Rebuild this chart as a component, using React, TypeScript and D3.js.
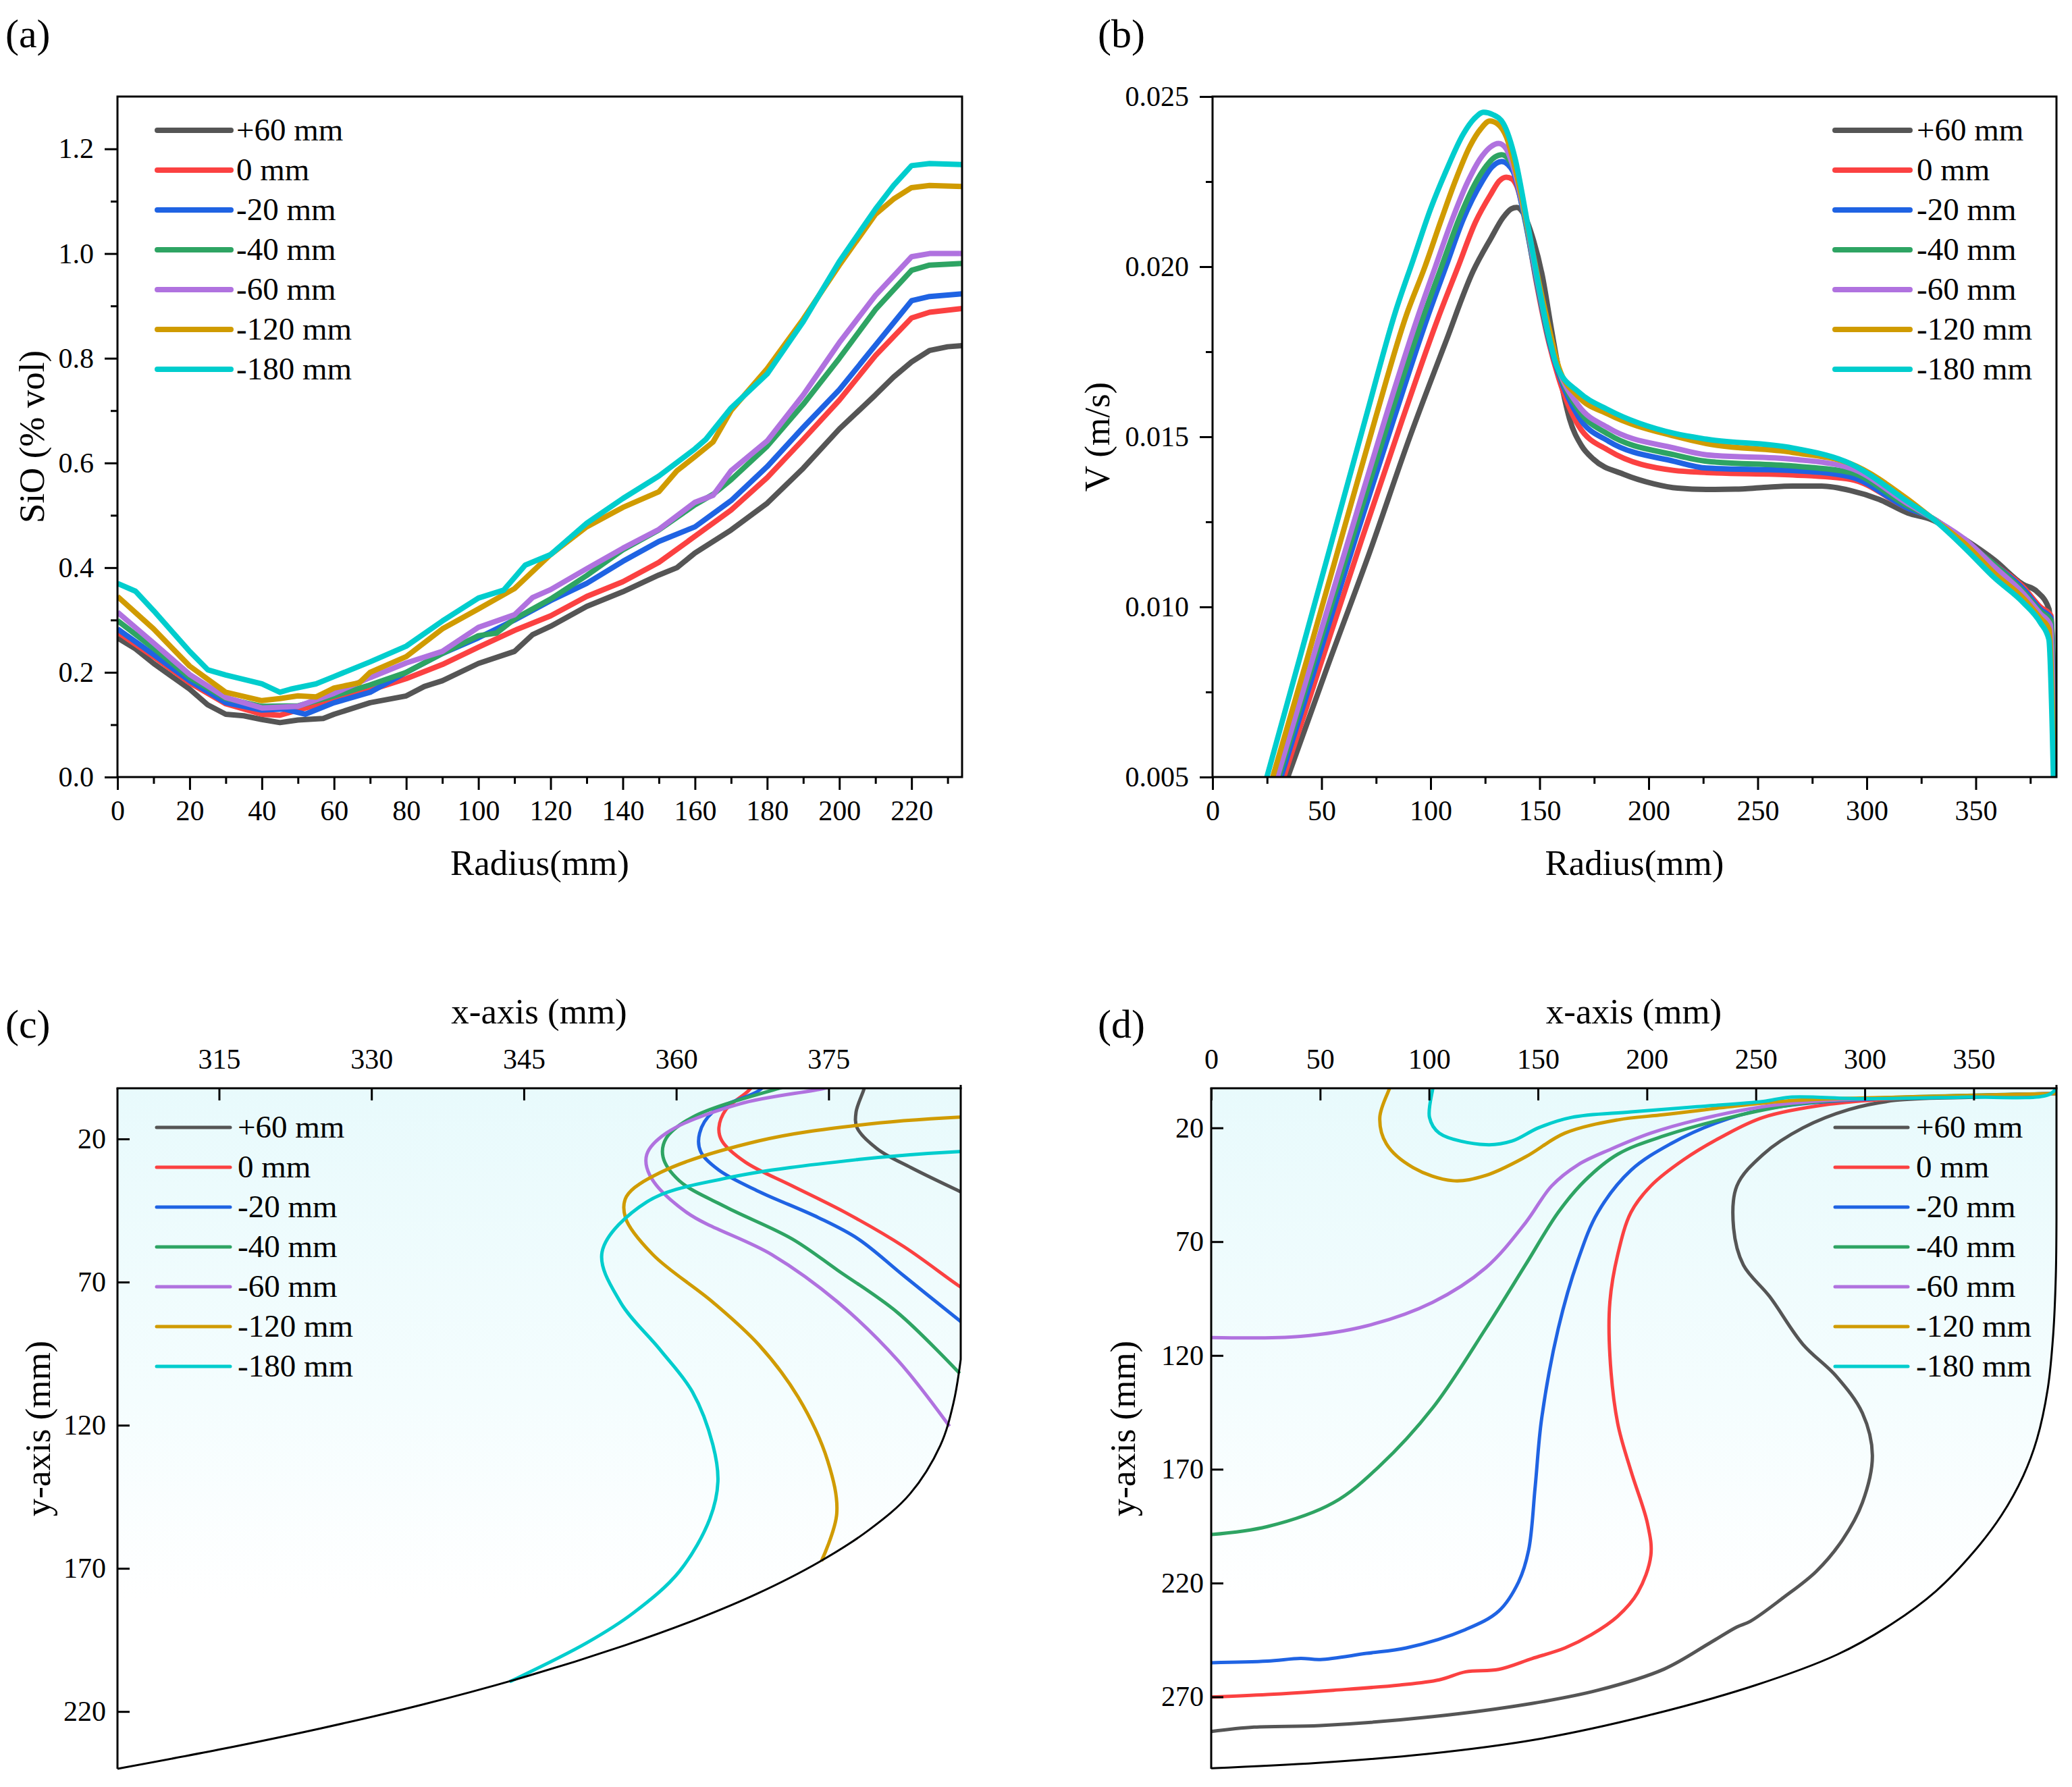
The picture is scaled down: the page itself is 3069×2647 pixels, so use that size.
import { useEffect, useRef } from "react"
import * as d3 from "d3"

type Pt = [number, number]

const FONT = "'Liberation Serif', 'Times New Roman', serif"

const seriesLabels = ["+60 mm", "0 mm", "-20 mm", "-40 mm", "-60 mm", "-120 mm", "-180 mm"]
const seriesColors = ["#555555", "#fb4141", "#1f63e3", "#2ea463", "#b072df", "#d09b00", "#00cdcd"]

// (a) SiO (% vol) vs radius
const sioP60: Pt[] = [[0,0.266],[5,0.245],[10,0.217],[20,0.168],[25,0.138],[30,0.12],[35,0.117],[40,0.11],[45,0.104],[50,0.109],[57,0.112],[60,0.12],[70,0.142],[80,0.155],[85,0.173],[90,0.184],[100,0.217],[110,0.24],[115,0.272],[120,0.288],[130,0.326],[140,0.354],[150,0.386],[155,0.4],[160,0.428],[170,0.472],[180,0.523],[190,0.59],[200,0.665],[210,0.73],[215,0.764],[220,0.793],[225,0.815],[230,0.822],[234,0.824]]
const sio0: Pt[] = [[0,0.277],[10,0.23],[20,0.18],[30,0.14],[40,0.12],[45,0.118],[50,0.128],[60,0.146],[70,0.166],[80,0.188],[90,0.215],[100,0.248],[110,0.28],[120,0.308],[130,0.345],[140,0.373],[150,0.41],[160,0.46],[170,0.51],[180,0.572],[190,0.645],[200,0.72],[210,0.805],[220,0.877],[225,0.888],[234,0.895]]
const sioM20: Pt[] = [[0,0.283],[10,0.234],[20,0.184],[30,0.142],[40,0.128],[46,0.13],[52,0.12],[60,0.142],[70,0.162],[80,0.2],[90,0.236],[100,0.266],[110,0.3],[120,0.337],[130,0.37],[140,0.412],[150,0.45],[160,0.478],[170,0.528],[180,0.593],[190,0.668],[200,0.74],[210,0.825],[220,0.91],[225,0.918],[234,0.923]]
const sioM40: Pt[] = [[0,0.299],[10,0.246],[20,0.19],[30,0.15],[40,0.135],[50,0.136],[60,0.155],[70,0.176],[80,0.2],[90,0.236],[100,0.27],[105,0.275],[110,0.302],[120,0.34],[130,0.385],[140,0.434],[150,0.472],[160,0.52],[165,0.54],[170,0.568],[180,0.632],[190,0.712],[200,0.8],[210,0.893],[220,0.968],[225,0.978],[234,0.981]]
const sioM60: Pt[] = [[0,0.315],[10,0.256],[20,0.196],[30,0.152],[40,0.132],[50,0.135],[60,0.16],[70,0.19],[80,0.218],[90,0.24],[100,0.286],[110,0.31],[115,0.343],[120,0.358],[130,0.398],[140,0.437],[150,0.473],[160,0.525],[165,0.538],[170,0.585],[180,0.642],[190,0.73],[200,0.83],[210,0.92],[220,0.994],[225,1.0],[234,1.0]]
const sioM120: Pt[] = [[0,0.345],[10,0.283],[20,0.212],[30,0.162],[40,0.146],[45,0.15],[50,0.155],[55,0.153],[60,0.17],[67,0.18],[70,0.2],[80,0.23],[90,0.283],[100,0.321],[110,0.36],[120,0.425],[130,0.478],[140,0.515],[150,0.545],[155,0.585],[160,0.612],[165,0.64],[170,0.7],[180,0.78],[190,0.875],[200,0.978],[210,1.075],[215,1.104],[220,1.126],[225,1.13],[234,1.128]]
const sioM180: Pt[] = [[0,0.37],[5,0.355],[10,0.318],[20,0.24],[25,0.205],[30,0.195],[40,0.178],[45,0.162],[48,0.168],[55,0.178],[60,0.192],[70,0.22],[80,0.25],[90,0.298],[100,0.342],[107,0.357],[113,0.405],[120,0.425],[130,0.485],[140,0.532],[150,0.575],[160,0.627],[163,0.645],[170,0.705],[180,0.77],[190,0.87],[200,0.985],[210,1.085],[215,1.13],[220,1.168],[225,1.172],[234,1.17]]
const sioXTicks = [0, 20, 40, 60, 80, 100, 120, 140, 160, 180, 200, 220]
const sioYTicks = [0, 0.2, 0.4, 0.6, 0.8, 1.0, 1.2]

// (b) V (m/s) vs radius
const vP60: Pt[] = [[34.5,0.005],[53,0.0083],[72,0.0116],[90.5,0.015],[107,0.0178],[119.5,0.01987],[127.8,0.02085],[133.3,0.02145],[137,0.0217],[139.5,0.02174],[142,0.02162],[147.1,0.02079],[151.2,0.01974],[155.4,0.01816],[159.5,0.01671],[163.7,0.01553],[169.2,0.01474],[174.7,0.01434],[188.5,0.0139],[202.3,0.01362],[213.3,0.01349],[226.5,0.01345],[239.7,0.01346],[252.9,0.01351],[266.1,0.01355],[279.3,0.01355],[292.5,0.01342],[305.7,0.01316],[318.9,0.01276],[329.5,0.01257],[345.3,0.01197],[358.5,0.01138],[371.7,0.01066],[377.9,0.01046],[383.6,0.00993],[386.3,0.005]]
const v0: Pt[] = [[32.7,0.005],[50.5,0.0085],[68.5,0.012],[87,0.0155],[103.5,0.0185],[112.6,0.02],[120.5,0.0213],[127.8,0.02215],[131.5,0.02252],[134.7,0.02263],[137.3,0.02258],[139.5,0.02237],[143.6,0.02132],[148.5,0.01954],[154,0.01783],[158.8,0.01671],[167.8,0.01533],[181.6,0.0146],[211.7,0.01401],[226.5,0.01395],[266.1,0.01388],[292.5,0.01375],[318.9,0.0129],[329.5,0.01263],[345.3,0.01191],[358.5,0.01125],[371.7,0.01059],[379.6,0.01],[384.5,0.00974],[386.3,0.005]]
const vM20: Pt[] = [[31.4,0.005],[48.5,0.0085],[65.5,0.012],[83,0.0155],[98.5,0.0185],[107,0.02],[115,0.0214],[123.6,0.0225],[128,0.02292],[132.6,0.02309],[135.5,0.023],[138.1,0.02276],[143,0.02145],[148.5,0.01961],[154,0.0179],[158.8,0.01684],[167.8,0.01559],[181.6,0.01487],[211.7,0.01428],[226.5,0.01408],[266.1,0.01401],[292.5,0.01382],[318.9,0.0129],[329.5,0.01263],[345.3,0.01191],[358.5,0.01125],[371.7,0.01053],[379.6,0.00993],[384.5,0.00967],[386.3,0.005]]
const vM40: Pt[] = [[30.4,0.005],[47,0.0085],[64,0.012],[81,0.0155],[96.5,0.0185],[105,0.02],[113,0.0214],[120.9,0.0225],[126.4,0.02303],[129.5,0.02322],[132.6,0.02329],[135.5,0.02318],[138.1,0.0229],[143,0.02151],[148.5,0.01967],[154,0.01796],[158.8,0.01691],[167.8,0.01579],[181.6,0.01507],[211.7,0.01447],[226.5,0.01428],[266.1,0.01414],[292.5,0.01395],[318.9,0.01296],[329.5,0.01263],[345.3,0.01191],[358.5,0.01125],[371.7,0.01046],[379.6,0.00987],[384.5,0.0096],[386.3,0.005]]
const vM60: Pt[] = [[29.7,0.005],[46,0.0085],[62.5,0.012],[79,0.0155],[94,0.0185],[102.2,0.02],[110,0.0214],[116.7,0.02245],[123.6,0.02325],[127.5,0.02352],[131.2,0.02362],[134.5,0.02348],[137.4,0.02303],[143,0.02158],[148.5,0.01974],[154,0.01803],[158.8,0.01697],[167.8,0.01592],[181.6,0.01526],[211.7,0.01467],[226.5,0.01447],[266.1,0.01434],[292.5,0.01408],[318.9,0.01303],[329.5,0.01263],[345.3,0.01197],[358.5,0.01118],[371.7,0.0104],[379.6,0.0098],[384.2,0.00947],[386.2,0.005]]
const vM120: Pt[] = [[27.6,0.005],[43.5,0.0085],[59,0.012],[74.5,0.0155],[89,0.0186],[97.4,0.02],[105,0.0214],[111.2,0.0225],[118.1,0.02355],[123,0.02405],[127.1,0.02428],[131,0.02418],[134.7,0.02382],[140.2,0.0225],[145.7,0.02079],[151.2,0.01908],[155.4,0.0179],[158.8,0.01704],[167.8,0.01618],[181.6,0.01566],[211.7,0.01502],[226.5,0.0148],[266.1,0.01454],[292.5,0.01421],[318.9,0.01316],[329.5,0.01263],[345.3,0.01184],[358.5,0.01099],[371.7,0.01026],[379.6,0.00967],[383.6,0.00934],[386,0.005]]
const vM180: Pt[] = [[24.9,0.005],[40,0.0085],[55,0.012],[70,0.0155],[84,0.0187],[92,0.0202],[100,0.0217],[107,0.0228],[115,0.0239],[120,0.02435],[124.3,0.02454],[128.5,0.02447],[133.3,0.02421],[138.8,0.02316],[144.3,0.02132],[149.9,0.01934],[154,0.01803],[158.1,0.01704],[167.8,0.01632],[181.6,0.01579],[211.7,0.0151],[226.5,0.01493],[266.1,0.01467],[292.5,0.01421],[318.9,0.01309],[329.5,0.01263],[345.3,0.01171],[358.5,0.01086],[371.7,0.01013],[379.6,0.00954],[383.5,0.00905],[385.6,0.005]]
const vXTicks = [0, 50, 100, 150, 200, 250, 300, 350]
const vYTicks = [0.005, 0.01, 0.015, 0.02, 0.025]

// (c) contour near the wall
const cP60: Pt[] = [[378.6,0],[378.5,2.3],[377.7,10.6],[377.8,16.1],[379.8,23.5],[383.1,30],[387.9,38.3],[389.5,41]]
const c0: Pt[] = [[367.8,0],[367.1,3.2],[364.9,9.7],[364.2,16.1],[364.5,20.7],[366.8,28.1],[371.4,36.4],[376.6,45.6],[382.4,57.6],[387.9,71.5],[389.5,75]]
const cM20: Pt[] = [[369,0],[368.1,3.2],[363.6,10.6],[362.3,18],[362.4,24.4],[364.2,30.9],[368.1,38.3],[374,47.5],[377.9,54.9],[382.4,67.8],[387.9,83.5],[389.5,88]]
const cM40: Pt[] = [[372.5,0],[370.1,2.3],[361.6,12.4],[359,19.8],[358.7,26.3],[360.3,34.6],[364.9,43.8],[371.4,54.9],[375.9,65.9],[381.8,80.7],[387.9,101.9]]
const cM60: Pt[] = [[377,0],[374.6,2.3],[366.2,7.8],[359,18],[357.1,25.4],[357.4,32.7],[361,45.6],[369.4,60.4],[375.9,77],[381.8,97.3],[386.9,120.4]]
const cM120: Pt[] = [[390,12.2],[387.9,12.4],[377.9,15.2],[368.1,20.7],[358.4,31.8],[355.1,40.1],[355,47.5],[357.7,60.4],[363.6,77],[368.1,91.8],[372,110.2],[374.9,132.4],[375.8,150.8],[374.3,167.4]]
const cM180: Pt[] = [[390,24.2],[387.9,24.4],[377.9,27.2],[364.9,33.7],[357.1,42],[352.7,59.5],[354.5,77],[358.4,93.6],[361.6,108.4],[363.6,126.8],[364.1,139.7],[363.3,152.7],[360.3,171.1],[355.8,185.5],[351.2,196],[343.6,209.6]]
const cXTicks = [315, 330, 345, 360, 375]
const cYTicks = [20, 70, 120, 170, 220]
// wall profile as seen in (c)
const wallC: Pt[] = [[305,240],[315,233.3],[325,225.9],[335,217.6],[345,208],[355,196.8],[362,187.8],[368,178.8],[374,167.9],[379,156.5],[383,144],[386,127],[387.3,112],[388,97]]

// (d) contour over the full radius
const dP60: Pt[] = [[0,285.2],[19.7,283.3],[50.1,282.6],[101.7,278.7],[147.2,272.9],[177.5,267.1],[207.9,257.8],[229.1,246.2],[241.3,239.3],[247.3,236.9],[262.5,226.5],[277.7,214.9],[289.8,201],[298.9,184.7],[303.5,163.9],[298.9,145.3],[286.8,129],[271.6,115.1],[256.4,94.2],[244.3,80.3],[239.8,64.1],[241.3,45.5],[253.4,31.6],[271.6,20],[292.9,11.9],[314.1,7.9],[350,6.5],[388,4.9]]
const d0: Pt[] = [[0,270.1],[25.8,269],[56.1,267.1],[86.5,264.8],[104.7,262.5],[116.8,259],[132,257.9],[147.2,253.2],[162.4,248.5],[174.5,242.7],[186.6,234.6],[195.8,224.2],[201.8,207.9],[200.3,194],[192.7,170.8],[186.6,149.9],[183,119.8],[183,96.6],[186.6,75.7],[192.7,57.1],[201.8,45.5],[217,33.9],[235.2,23.5],[253.4,15.4],[283.8,9.6],[314.1,7.2],[388,4.9]]
const dM20: Pt[] = [[0,255],[25.8,254.3],[41,253.1],[50.1,253.6],[71.3,250.9],[89.5,248.5],[116.8,240.4],[132,232.3],[141.1,219.5],[145.7,205.6],[148.7,177.8],[151.7,147.6],[159.3,108.2],[168.4,78],[177.5,57.1],[192.7,38.6],[210.9,27],[232.2,17.7],[253.4,11.9],[283.8,8.4],[388,4.9]]
const dM40: Pt[] = [[0,198.7],[25.8,195.2],[56.1,184.7],[77.4,168.5],[101.7,143],[126,108.2],[144.2,80.3],[159.3,57.1],[171.5,43.2],[186.6,31.6],[207.9,23.5],[238.2,15.4],[268.6,9.6],[298.9,7.2],[388,4.9]]
const dM60: Pt[] = [[0,112.1],[41,111.6],[71.3,107],[101.7,96.6],[126,81.5],[144.2,61.8],[156.3,45.5],[168.4,36.2],[183.6,29.3],[201.8,22.3],[223.1,16.5],[253.4,10.7],[283.8,7.9],[329.3,6.5],[388,4.9]]
const dM120: Pt[] = [[83,0],[81.9,2.6],[77.4,15.4],[80.4,27],[92.6,37.4],[110.8,43.2],[126,40.9],[144.2,32.8],[162.4,22.3],[186.6,16.5],[207.9,14.2],[238.2,10.7],[268.6,7.9],[314.1,6.5],[388,4.9]]
const dM180: Pt[] = [[102,0],[101.7,2.6],[100.2,15.4],[104.7,22.3],[126,27.4],[138.1,25.8],[150.2,20],[165.4,15.4],[192.7,13],[223.1,10.7],[253.4,8.4],[265.6,6.5],[298.9,7.2],[344.5,6.5],[383.9,5.6],[388,2.6]]
const dXTicks = [0, 50, 100, 150, 200, 250, 300, 350]
const dYTicks = [20, 70, 120, 170, 220, 270]
// wall profile as seen in (d)
const wallD: Pt[] = [[0,301.4],[49,299],[99.2,295.1],[149.4,288.7],[199.6,278.4],[249.8,264.9],[287.4,251.4],[312.5,237.9],[332.6,223.6],[350.2,206.1],[362.7,190.3],[372.8,172.8],[379,156.9],[384,134.6],[386.5,110.8],[387.7,85],[388,60]]
const wallX = 388

type Sel = d3.Selection<SVGGElement, unknown, null, undefined>

function styleAxis(a: Sel, size: number) {
  a.attr("font-family", FONT).attr("font-size", size)
  a.select(".domain").remove()
  a.selectAll(".tick line").attr("stroke", "#000").attr("stroke-width", 3)
  a.selectAll(".tick text").attr("fill", "#000")
}

function drawLegend(g: Sel, x1: number, x2: number, tx: number, y0: number, width: number) {
  seriesLabels.forEach((label, i) => {
    const yy = y0 + i * 59
    g.append("line")
      .attr("x1", x1).attr("x2", x2).attr("y1", yy).attr("y2", yy)
      .attr("stroke", seriesColors[i]).attr("stroke-width", width).attr("stroke-linecap", "round")
    g.append("text")
      .attr("x", tx).attr("y", yy + 15)
      .attr("font-family", FONT).attr("font-size", 47)
      .text(label)
  })
}

function drawLinePanel(svg: Sel, o: {
  id: string; left: number; right: number; top: number; bottom: number
  xDomain: [number, number]; yDomain: [number, number]
  xTicks: number[]; xMinor: number[]; yTicks: number[]; yMinor: number[]
  yFormat: string; series: Pt[][]; smooth: boolean
  legendX: [number, number, number]; yTitle: string; yTitleX: number
  tag: string; tagX: number
}) {
  const x = d3.scaleLinear().domain(o.xDomain).range([o.left, o.right])
  const y = d3.scaleLinear().domain(o.yDomain).range([o.bottom, o.top])
  const g = svg.append("g")

  g.append("clipPath").attr("id", o.id).append("rect")
    .attr("x", o.left).attr("y", o.top).attr("width", o.right - o.left).attr("height", o.bottom - o.top)

  const line = d3.line<Pt>().x((d) => x(d[0])).y((d) => y(d[1]))
    .curve(o.smooth ? d3.curveMonotoneX : d3.curveLinear)

  o.series.forEach((s, i) => {
    g.append("path")
      .attr("d", line(s))
      .attr("fill", "none")
      .attr("stroke", seriesColors[i])
      .attr("stroke-width", 8)
      .attr("stroke-linejoin", "round")
      .attr("clip-path", `url(#${o.id})`)
  })

  g.append("rect")
    .attr("x", o.left).attr("y", o.top).attr("width", o.right - o.left).attr("height", o.bottom - o.top)
    .attr("fill", "none").attr("stroke", "#000").attr("stroke-width", 3)

  const xa = g.append("g").attr("transform", `translate(0,${o.bottom})`)
    .call(d3.axisBottom(x).tickValues(o.xTicks).tickSize(19).tickPadding(15).tickFormat(d3.format("d")))
  styleAxis(xa, 42)
  const xm = g.append("g").attr("transform", `translate(0,${o.bottom})`)
    .call(d3.axisBottom(x).tickValues(o.xMinor).tickSize(10).tickFormat(() => ""))
  styleAxis(xm, 42)

  const ya = g.append("g").attr("transform", `translate(${o.left},0)`)
    .call(d3.axisLeft(y).tickValues(o.yTicks).tickSize(19).tickPadding(16).tickFormat(d3.format(o.yFormat)))
  styleAxis(ya, 42)
  const ym = g.append("g").attr("transform", `translate(${o.left},0)`)
    .call(d3.axisLeft(y).tickValues(o.yMinor).tickSize(10).tickFormat(() => ""))
  styleAxis(ym, 42)

  g.append("text")
    .attr("x", (o.left + o.right) / 2).attr("y", 1296)
    .attr("text-anchor", "middle").attr("font-family", FONT).attr("font-size", 53)
    .text("Radius(mm)")
  g.append("text")
    .attr("transform", `translate(${o.yTitleX},${(o.top + o.bottom) / 2}) rotate(-90)`)
    .attr("text-anchor", "middle").attr("font-family", FONT).attr("font-size", 53)
    .text(o.yTitle)
  g.append("text")
    .attr("x", o.tagX).attr("y", 70)
    .attr("font-family", FONT).attr("font-size", 60)
    .text(o.tag)

  drawLegend(g, o.legendX[0], o.legendX[1], o.legendX[2], 193, 8)
}

function drawContourPanel(svg: Sel, o: {
  id: string; left: number; right: number; top: number; bottom: number
  xDomain: [number, number]; yDomain: [number, number]
  xTicks: number[]; yTicks: number[]; series: Pt[][]; wallPts: Pt[]
  legendX: [number, number, number]; yTitleX: number; yPad: number
  tag: string; tagX: number
}) {
  const x = d3.scaleLinear().domain(o.xDomain).range([o.left, o.right])
  const y = d3.scaleLinear().domain(o.yDomain).range([o.top, o.bottom])
  const g = svg.append("g")

  const defs = g.append("defs")
  defs.append("clipPath").attr("id", o.id).append("rect")
    .attr("x", o.left).attr("y", o.top).attr("width", o.right - o.left).attr("height", o.bottom - o.top)
  const grad = defs.append("linearGradient").attr("id", `${o.id}-bg`)
    .attr("gradientUnits", "userSpaceOnUse")
    .attr("x1", 0).attr("y1", o.top).attr("x2", 0).attr("y2", o.bottom)
  grad.append("stop").attr("offset", 0).attr("stop-color", "#e8fafc")
  grad.append("stop").attr("offset", 0.45).attr("stop-color", "#f4fdfe")
  grad.append("stop").attr("offset", 0.75).attr("stop-color", "#ffffff")

  const wall = d3.line<Pt>().x((d) => x(d[0])).y((d) => y(d[1])).curve(d3.curveCatmullRom)(o.wallPts) ?? ""
  const wallTop = `L${x(wallX)},${o.top - 5}`
  const start = o.wallPts[0]

  g.append("path")
    .attr("d", `${wall}${wallTop}L${o.left - 5},${o.top - 5}L${o.left - 5},${y(start[1])}Z`)
    .attr("fill", `url(#${o.id}-bg)`)
    .attr("clip-path", `url(#${o.id})`)

  const line = d3.line<Pt>().x((d) => x(d[0])).y((d) => y(d[1])).curve(d3.curveCatmullRom)
  o.series.forEach((s, i) => {
    g.append("path")
      .attr("d", line(s))
      .attr("fill", "none")
      .attr("stroke", seriesColors[i])
      .attr("stroke-width", 5)
      .attr("stroke-linejoin", "round")
      .attr("clip-path", `url(#${o.id})`)
  })

  g.append("path")
    .attr("d", `${wall}${wallTop}`)
    .attr("fill", "none").attr("stroke", "#000").attr("stroke-width", 3)

  const xa = g.append("g").attr("transform", `translate(0,${o.top})`)
    .call(d3.axisTop(x).tickValues(o.xTicks).tickSize(-18).tickPadding(29).tickFormat(d3.format("d")))
  styleAxis(xa, 42)
  const ya = g.append("g").attr("transform", `translate(${o.left},0)`)
    .call(d3.axisLeft(y).tickValues(o.yTicks).tickSize(-18).tickPadding(o.yPad).tickFormat(d3.format("d")))
  styleAxis(ya, 42)

  g.append("line")
    .attr("x1", o.left - 1.5).attr("x2", o.right + 1.5).attr("y1", o.top).attr("y2", o.top)
    .attr("stroke", "#000").attr("stroke-width", 3)
  g.append("line")
    .attr("x1", o.left).attr("x2", o.left).attr("y1", o.top).attr("y2", o.bottom)
    .attr("stroke", "#000").attr("stroke-width", 3)

  g.append("text")
    .attr("x", (o.left + o.right) / 2).attr("y", 1516)
    .attr("text-anchor", "middle").attr("font-family", FONT).attr("font-size", 53)
    .text("x-axis (mm)")
  g.append("text")
    .attr("transform", `translate(${o.yTitleX},${(o.top + o.bottom) / 2}) rotate(-90)`)
    .attr("text-anchor", "middle").attr("font-family", FONT).attr("font-size", 53)
    .text("y-axis (mm)")
  g.append("text")
    .attr("x", o.tagX).attr("y", 1537)
    .attr("font-family", FONT).attr("font-size", 60)
    .text(o.tag)

  drawLegend(g, o.legendX[0], o.legendX[1], o.legendX[2], 1670, 5)
}

export default function App() {
  const svgRef = useRef<SVGSVGElement>(null)

  useEffect(() => {
    if (!svgRef.current) return
    const root = d3.select(svgRef.current)
    root.selectAll("*").remove()
    const svg = root.append("g") as unknown as Sel

    drawLinePanel(svg, {
      id: "clip-a", left: 174, right: 1425, top: 143, bottom: 1151,
      xDomain: [0, 234], yDomain: [0, 1.3],
      xTicks: sioXTicks, xMinor: d3.range(10, 234, 20),
      yTicks: sioYTicks, yMinor: d3.range(0.1, 1.25, 0.2),
      yFormat: ".1f",
      series: [sioP60, sio0, sioM20, sioM40, sioM60, sioM120, sioM180],
      smooth: false,
      legendX: [233, 342, 350], yTitle: "SiO (% vol)", yTitleX: 65,
      tag: "(a)", tagX: 8,
    })

    drawLinePanel(svg, {
      id: "clip-b", left: 1796, right: 3046, top: 143, bottom: 1151,
      xDomain: [0, 387], yDomain: [0.005, 0.025],
      xTicks: vXTicks, xMinor: d3.range(25, 387, 50),
      yTicks: vYTicks, yMinor: [0.0075, 0.0125, 0.0175, 0.0225],
      yFormat: ".3f",
      series: [vP60, v0, vM20, vM40, vM60, vM120, vM180],
      smooth: true,
      legendX: [2718, 2829, 2839], yTitle: "V (m/s)", yTitleX: 1643,
      tag: "(b)", tagX: 1626,
    })

    drawContourPanel(svg, {
      id: "clip-c", left: 174, right: 1423, top: 1612, bottom: 2620,
      xDomain: [305, 388], yDomain: [2.3, 240],
      xTicks: cXTicks, yTicks: cYTicks, wallPts: wallC,
      series: [cP60, c0, cM20, cM40, cM60, cM120, cM180],
      legendX: [232, 341, 352], yTitleX: 74, yPad: 17,
      tag: "(c)", tagX: 8,
    })

    drawContourPanel(svg, {
      id: "clip-d", left: 1794, right: 3046, top: 1612, bottom: 2620,
      xDomain: [0, 388], yDomain: [2.6, 301.6],
      xTicks: dXTicks, yTicks: dYTicks, wallPts: wallD,
      series: [dP60, d0, dM20, dM40, dM60, dM120, dM180],
      legendX: [2718, 2826, 2838], yTitleX: 1681, yPad: 11,
      tag: "(d)", tagX: 1626,
    })
  }, [])

  return (
    <div style={{ position: "absolute", left: 0, top: 0, background: "#fff" }}>
      <svg ref={svgRef} width={3069} height={2647} style={{ display: "block" }}></svg>
    </div>
  )
}
